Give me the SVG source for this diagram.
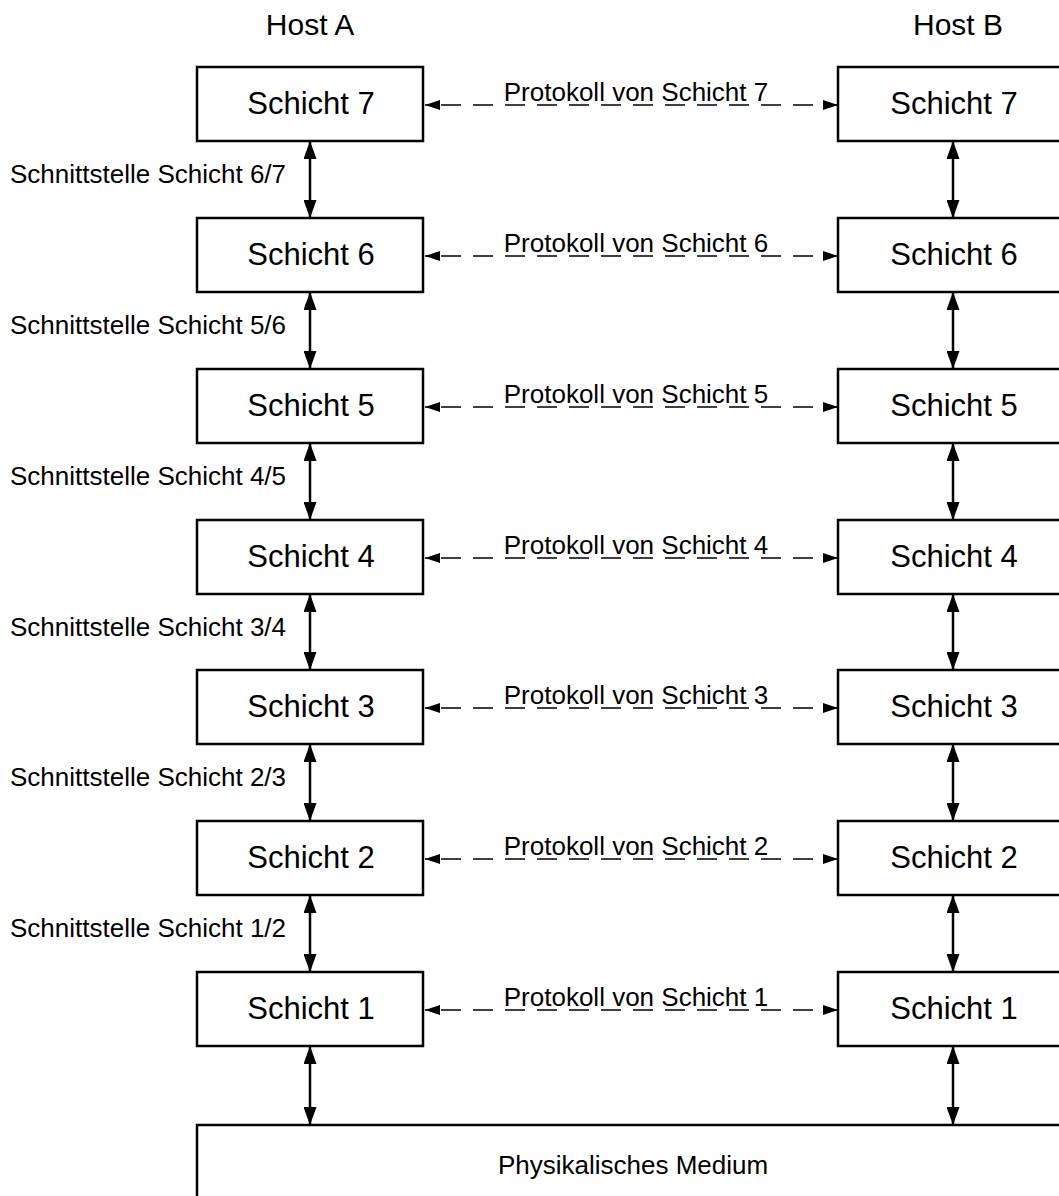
<svg xmlns="http://www.w3.org/2000/svg" width="1059" height="1196" viewBox="0 0 1059 1196">
  <style>
    text { font-family: "Liberation Sans", Arial, sans-serif; fill: #000; }
    .box { fill: #fff; stroke: #000; stroke-width: 2.5; }
    .lbl { font-size: 31px; text-anchor: middle; }
    .host { font-size: 30px; text-anchor: middle; }
    .small { font-size: 26px; }
    .mid { text-anchor: middle; }
    .iface { stroke: #000; stroke-width: 2.5; fill: none; marker-start: url(#vhead); marker-end: url(#vhead); }
    .proto { stroke: #000; stroke-width: 1.6; fill: none; stroke-dasharray: 20 12; stroke-dashoffset: 16; marker-start: url(#hhead); marker-end: url(#hhead); }
  </style>
  <defs>
    <marker id="vhead" markerUnits="userSpaceOnUse" markerWidth="18" markerHeight="13" viewBox="0 0 18 13" refX="18" refY="6.5" orient="auto-start-reverse">
      <path d="M0,0 L18,6.5 L0,13 Z" fill="#000"/>
    </marker>
    <marker id="hhead" markerUnits="userSpaceOnUse" markerWidth="15" markerHeight="10" viewBox="0 0 15 10" refX="15" refY="5" orient="auto-start-reverse">
      <path d="M0,0 L15,5 L0,10 Z" fill="#000"/>
    </marker>
  </defs>

  <rect width="1059" height="1196" fill="#fff"/>

  <!-- column headings -->
  <text class="host" x="310" y="35">Host A</text>
  <text class="host" x="958" y="35">Host B</text>

  <!-- connectors: layer interfaces and peer protocols -->
  <g id="connectors">
    <line class="iface" x1="310" y1="141" x2="310" y2="218"/>
    <line class="iface" x1="310" y1="292" x2="310" y2="369"/>
    <line class="iface" x1="310" y1="443" x2="310" y2="520"/>
    <line class="iface" x1="310" y1="594" x2="310" y2="670"/>
    <line class="iface" x1="310" y1="744" x2="310" y2="821"/>
    <line class="iface" x1="310" y1="895" x2="310" y2="972"/>
    <line class="iface" x1="310" y1="1046" x2="310" y2="1125"/>

    <line class="iface" x1="953" y1="141" x2="953" y2="218"/>
    <line class="iface" x1="953" y1="292" x2="953" y2="369"/>
    <line class="iface" x1="953" y1="443" x2="953" y2="520"/>
    <line class="iface" x1="953" y1="594" x2="953" y2="670"/>
    <line class="iface" x1="953" y1="744" x2="953" y2="821"/>
    <line class="iface" x1="953" y1="895" x2="953" y2="972"/>
    <line class="iface" x1="953" y1="1046" x2="953" y2="1125"/>

    <line class="proto" x1="425" y1="105" x2="838" y2="105"/>
    <line class="proto" x1="425" y1="256" x2="838" y2="256"/>
    <line class="proto" x1="425" y1="407" x2="838" y2="407"/>
    <line class="proto" x1="425" y1="558" x2="838" y2="558"/>
    <line class="proto" x1="425" y1="708" x2="838" y2="708"/>
    <line class="proto" x1="425" y1="859" x2="838" y2="859"/>
    <line class="proto" x1="425" y1="1010" x2="838" y2="1010"/>

    <text class="small mid" x="636" y="101">Protokoll von Schicht 7</text>
    <text class="small mid" x="636" y="252">Protokoll von Schicht 6</text>
    <text class="small mid" x="636" y="403">Protokoll von Schicht 5</text>
    <text class="small mid" x="636" y="554">Protokoll von Schicht 4</text>
    <text class="small mid" x="636" y="704">Protokoll von Schicht 3</text>
    <text class="small mid" x="636" y="855">Protokoll von Schicht 2</text>
    <text class="small mid" x="636" y="1006">Protokoll von Schicht 1</text>

    <text class="small" x="10" y="183">Schnittstelle Schicht 6/7</text>
    <text class="small" x="10" y="334">Schnittstelle Schicht 5/6</text>
    <text class="small" x="10" y="485">Schnittstelle Schicht 4/5</text>
    <text class="small" x="10" y="636">Schnittstelle Schicht 3/4</text>
    <text class="small" x="10" y="786">Schnittstelle Schicht 2/3</text>
    <text class="small" x="10" y="937">Schnittstelle Schicht 1/2</text>
  </g>

  <!-- Host A stack -->
  <g id="a7"><rect class="box" x="197" y="67" width="226" height="74"/><text class="lbl" x="311" y="114">Schicht 7</text></g>
  <g id="a6"><rect class="box" x="197" y="218" width="226" height="74"/><text class="lbl" x="311" y="265">Schicht 6</text></g>
  <g id="a5"><rect class="box" x="197" y="369" width="226" height="74"/><text class="lbl" x="311" y="416">Schicht 5</text></g>
  <g id="a4"><rect class="box" x="197" y="520" width="226" height="74"/><text class="lbl" x="311" y="567">Schicht 4</text></g>
  <g id="a3"><rect class="box" x="197" y="670" width="226" height="74"/><text class="lbl" x="311" y="717">Schicht 3</text></g>
  <g id="a2"><rect class="box" x="197" y="821" width="226" height="74"/><text class="lbl" x="311" y="868">Schicht 2</text></g>
  <g id="a1"><rect class="box" x="197" y="972" width="226" height="74"/><text class="lbl" x="311" y="1019">Schicht 1</text></g>

  <!-- Host B stack -->
  <g id="b7"><rect class="box" x="838" y="67" width="240" height="74"/><text class="lbl" x="954" y="114">Schicht 7</text></g>
  <g id="b6"><rect class="box" x="838" y="218" width="240" height="74"/><text class="lbl" x="954" y="265">Schicht 6</text></g>
  <g id="b5"><rect class="box" x="838" y="369" width="240" height="74"/><text class="lbl" x="954" y="416">Schicht 5</text></g>
  <g id="b4"><rect class="box" x="838" y="520" width="240" height="74"/><text class="lbl" x="954" y="567">Schicht 4</text></g>
  <g id="b3"><rect class="box" x="838" y="670" width="240" height="74"/><text class="lbl" x="954" y="717">Schicht 3</text></g>
  <g id="b2"><rect class="box" x="838" y="821" width="240" height="74"/><text class="lbl" x="954" y="868">Schicht 2</text></g>
  <g id="b1"><rect class="box" x="838" y="972" width="240" height="74"/><text class="lbl" x="954" y="1019">Schicht 1</text></g>

  <!-- shared transmission medium -->
  <g id="medium"><rect class="box" x="197" y="1125" width="900" height="100"/><text class="small mid" x="633" y="1174">Physikalisches Medium</text></g>
</svg>
